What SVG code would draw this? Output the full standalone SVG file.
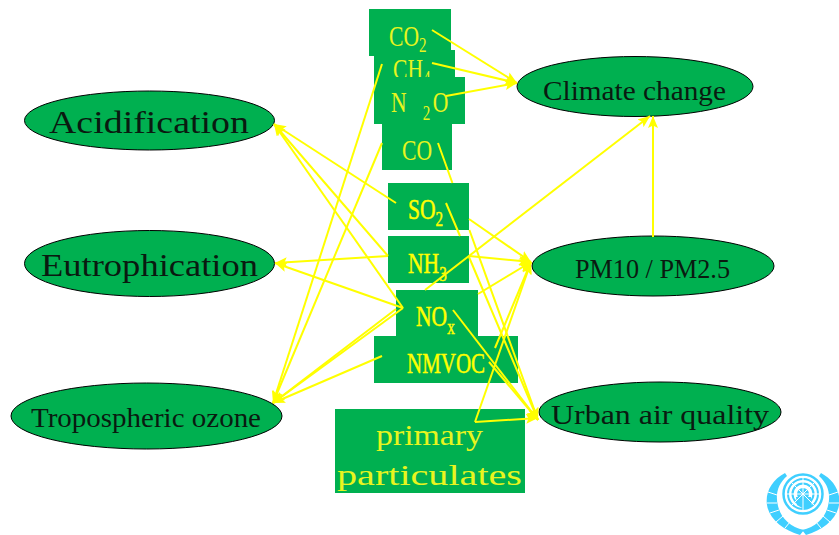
<svg xmlns="http://www.w3.org/2000/svg" width="839" height="535" viewBox="0 0 839 535">
<style>
text{font-family:"Liberation Serif","Times New Roman",serif}
.box{fill:#00B050}
.oval{fill:#00B050;stroke:#000;stroke-width:1}
.y{fill:#FFFF00;font-size:30px}
.yt{fill:#E8F51E;font-size:30px}
.b{fill:#FFFF00;font-size:30px;stroke:#FFFF00;stroke-width:.5}
.k{fill:#0a1a10;font-size:27px}
.conn path{fill:none;stroke:#FFFF00;stroke-width:2}
.arr{marker-end:url(#ah)}
.un{fill:#3FCFFF}
</style>
<defs>
<marker id="ah" markerUnits="userSpaceOnUse" markerWidth="14" markerHeight="12" refX="12" refY="5" orient="auto"><path d="M0 0L12 5L0 10L2.500 5Z" fill="#FFFF00"/></marker>
</defs>
<rect width="839" height="535" fill="#fff"/>
<g id="node-acidification"><ellipse class="oval" cx="149.500" cy="120.500" rx="125" ry="29.500"/><text class="k" style="font-size:31px" x="49" y="133" textLength="200" lengthAdjust="spacingAndGlyphs">Acidification</text></g>
<g id="node-eutrophication"><ellipse class="oval" cx="149.500" cy="263.500" rx="125" ry="33"/><text class="k" style="font-size:31px" x="41" y="276" textLength="217" lengthAdjust="spacingAndGlyphs">Eutrophication</text></g>
<g id="node-ozone"><ellipse class="oval" cx="146.500" cy="416" rx="135.500" ry="33"/><text class="k" x="31" y="427" textLength="230" lengthAdjust="spacingAndGlyphs">Tropospheric ozone</text></g>
<g id="node-climate"><ellipse class="oval" cx="635" cy="86.500" rx="118" ry="30"/><text class="k" x="543" y="100" textLength="183" lengthAdjust="spacingAndGlyphs">Climate change</text></g>
<g id="node-pm"><ellipse class="oval" cx="653" cy="266" rx="121" ry="30"/><text class="k" x="575" y="278" textLength="155" lengthAdjust="spacingAndGlyphs">PM10 / PM2.5</text></g>
<g id="node-urban"><ellipse class="oval" cx="660" cy="412" rx="121" ry="30"/><text class="k" x="551" y="424" textLength="218" lengthAdjust="spacingAndGlyphs">Urban air quality</text></g>
<g id="node-ch4"><rect class="box" x="374" y="50" width="81" height="30"/><text class="yt" transform="translate(393 79) scale(.72 1)">CH<tspan dy="6" font-size="21">4</tspan></text></g>
<g id="node-co2"><rect class="box" x="369" y="9" width="82" height="47"/><text class="yt" transform="translate(389 46) scale(.72 1)">CO<tspan dy="6" font-size="21">2</tspan></text></g>
<g id="node-n2o"><rect class="box" x="374" y="77" width="91" height="47"/><text class="yt" transform="translate(391 112) scale(.72 1)">N<tspan x="44" dy="8" font-size="21">2</tspan><tspan x="58" dy="-8">O</tspan></text></g>
<g id="node-co"><rect class="box" x="382" y="124" width="70" height="46"/><text class="yt" x="402" y="160" textLength="30" lengthAdjust="spacingAndGlyphs">CO</text></g>
<g id="node-so2"><rect class="box" x="388" y="183" width="81" height="47"/><text class="b" transform="translate(408 219) scale(.72 1)">SO<tspan dy="7" font-size="21">2</tspan></text></g>
<g id="node-nh3"><rect class="box" x="388" y="236" width="81" height="47"/><text class="b" transform="translate(408 273) scale(.72 1)">NH<tspan dy="8" font-size="21">3</tspan></text></g>
<g id="node-nox"><rect class="box" x="396" y="290" width="82" height="46"/><text class="b" transform="translate(416 326) scale(.72 1)">NO<tspan dy="8" font-size="21">x</tspan></text></g>
<g id="node-nmvoc"><rect class="box" x="374" y="336" width="144" height="47"/><text class="b" x="407" y="373" textLength="78" lengthAdjust="spacingAndGlyphs">NMVOC</text></g>
<g id="node-primary"><rect class="box" x="335" y="409" width="190" height="84"/><text class="yt" x="376" y="445" textLength="107" lengthAdjust="spacingAndGlyphs">primary</text><text class="yt" x="337" y="485" textLength="185" lengthAdjust="spacingAndGlyphs">particulates</text></g>
<g id="connectors" class="conn">
<path class="arr" d="M432 30L517 83"/>
<path class="arr" d="M432 63L517 83"/>
<path class="arr" d="M446 96L517 83"/>
<path class="arr" d="M382 64L273 403"/>
<path class="arr" d="M382 143L273 403"/>
<path class="arr" d="M438 143L452.400 183M469.400 230L538 420"/>
<path class="arr" d="M396 203L274 124"/>
<path class="arr" d="M446 203L460 236M469 257L538 420"/>
<path class="arr" d="M469 219L531 262"/>
<path class="arr" d="M388 256L275 263"/>
<path class="arr" d="M388 256L274 124"/>
<path class="arr" d="M469 256L531 262"/>
<path class="arr" d="M403 308L274 124"/>
<path class="arr" d="M403 308L275 263"/>
<path class="arr" d="M403 308L273 403"/>
<path class="arr" d="M425 290L650 116"/>
<path d="M396 309L273 403"/>
<path class="arr" d="M478 294L531 262"/>
<path class="arr" d="M453 310L538 420"/>
<path class="arr" d="M382 356L273 403"/>
<path class="arr" d="M495 348L531 262"/>
<path class="arr" d="M489 362L538 420"/>
<path class="arr" d="M475 422L538 418"/>
<path class="arr" d="M475 422L531 262"/>
<path class="arr" d="M653 237L653 116"/>
</g>
<g id="un-emblem">
<circle cx="803" cy="494" r="19.500" fill="none" stroke="#3FCFFF" stroke-width="2.500"/>
<circle cx="803" cy="494" r="15" fill="none" stroke="#3FCFFF" stroke-width="2"/>
<circle cx="803" cy="494" r="10.500" fill="none" stroke="#3FCFFF" stroke-width="2"/>
<circle cx="803" cy="494" r="6" class="un"/>
<path class="un" d="M796 497L811 497L812 507L804 509L797 505Z"/>
<path d="M803 476V512M785 494H821M790 481L816 507M816 481L790 507" stroke="#fff" stroke-width="1" fill="none"/>
<path class="un" d="M785 473C772 480 765 492 767 505C769 519 783 530 800 535L804 530C790 527 781 518 778 506C775 494 778 484 787 476Z"/>
<path class="un" d="M821 473C834 480 841 492 839 505C837 519 823 530 806 535L802 530C816 527 825 518 828 506C831 494 828 484 819 476Z"/>
<path d="M768 492L777 495M767 503L777 503M770 513L779 510M776 522L783 516M785 528L790 522M838 492L829 495M839 503L829 503M836 513L827 510M830 522L823 516M821 528L816 522" stroke="#fff" stroke-width="1" fill="none"/>
</g>
</svg>
